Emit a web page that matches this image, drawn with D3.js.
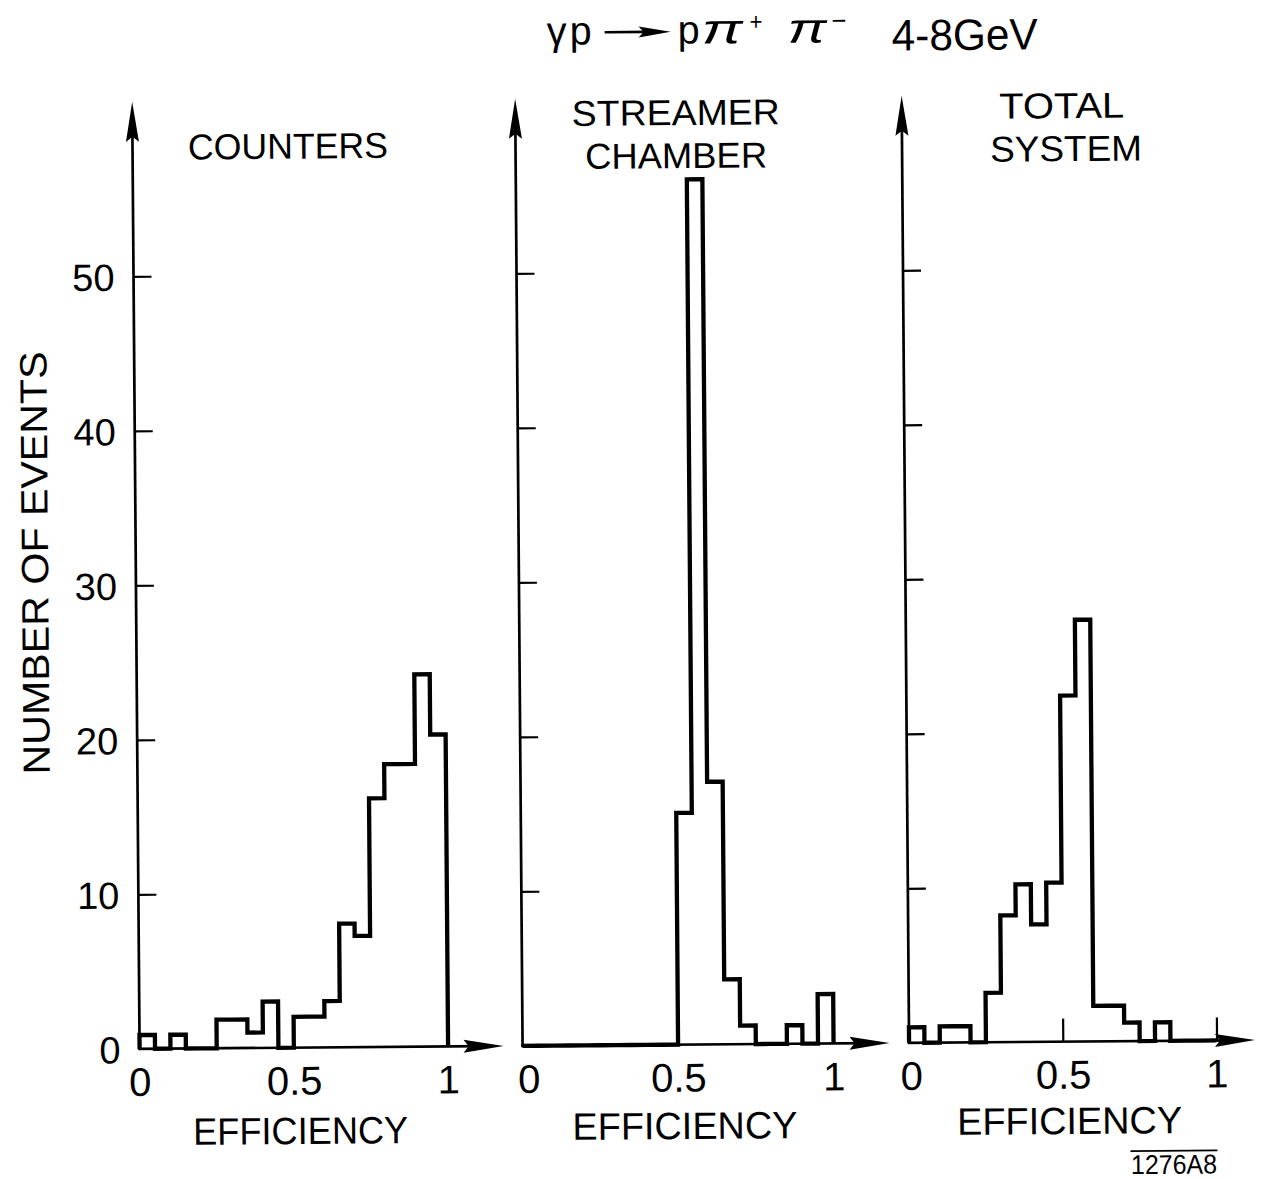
<!DOCTYPE html>
<html>
<head>
<meta charset="utf-8">
<script src="https://cdn.jsdelivr.net/npm/d3@7"></script>
<style>
  body { margin: 0; background: #fff; }
  text { font-family: "Liberation Sans", Arial, sans-serif; fill: #000; }
</style>
</head>
<body>
<svg id="chart" width="1264" height="1179"></svg>
<script>
// ---------------- DATA ----------------
const binEdges = [0, 0.05, 0.1, 0.15, 0.2, 0.25, 0.3, 0.35, 0.4, 0.45, 0.5,
                  0.55, 0.6, 0.65, 0.7, 0.75, 0.8, 0.85, 0.9, 0.95, 1.0];
const countersEvents = [0.9, 0, 0.9, 0, 0, 1.85, 1.85, 1.0, 3.0, 0,
                        2.0, 2.0, 3.0, 8.0, 7.2, 16.1, 18.3, 18.3, 24.1, 20.2];
const streamerEvents = [0, 0, 0, 0, 0, 0, 0, 0, 0, 0,
                        15.0, 56.0, 17.0, 4.2, 1.2, 0, 0, 1.2, 0, 3.2];
const totalEvents    = [1.0, 0, 1.05, 1.05, 0, 3.2, 8.2, 10.2, 7.6, 10.3,
                        22.4, 27.3, 2.3, 2.3, 1.2, 0, 1.2, 0, 0, 0];
const yTickValues = [0, 10, 20, 30, 40, 50];
const yTickLabels = ["0", "10", "20", "30", "40", "50"];
const xTickValues = [0, 0.5, 1];
const xTickLabels = ["0", "0.5", "1"];
const panelTitles = [["COUNTERS"], ["STREAMER", "CHAMBER"], ["TOTAL", "SYSTEM"]];
const xAxisTitle = "EFFICIENCY";
const yAxisTitle = "NUMBER OF EVENTS";
const figureId = "1276A8";

// ---------------- LAYOUT ----------------
const W = 1264, H = 1179;
const baseY = 1045, top50 = 272.5;
const yMaxArrow = 61.3;
const panels = [
  { data: countersEvents, x0: 136, x1: 444.5, xArrow: 1.18, zeroDx: 0,
    titleCx: [291.5], titleBase: [156], titleLen: [200],
    effBase: 1141.4, effLen: 215, yLabels: true, xTicks: false },
  { data: streamerEvents, x0: 519, x1: 830, xArrow: 1.18, zeroDx: 6,
    titleCx: [679.5, 679.5], titleBase: [125.5, 168.5], titleLen: [208, 182],
    effBase: 1139.4, effLen: 225, yLabels: false, xTicks: false },
  { data: totalEvents, x0: 905.5, x1: 1213, xArrow: 1.125, zeroDx: 2,
    titleCx: [1065.5, 1069.5], titleBase: [121.5, 164.5], titleLen: [125, 152],
    effBase: 1137.4, effLen: 225, yLabels: false, xTicks: true }
];

const svg = d3.select("#chart");
svg.append("rect").attr("width", W).attr("height", H).attr("fill", "#fff");
// slight scan rotation of the original figure
const g = svg.append("g").attr("transform", "rotate(-0.45,632,590)");

const y = d3.scaleLinear().domain([0, 50]).range([baseY, top50]);

panels.forEach((p, pi) => {
  const x = d3.scaleLinear().domain([0, 1]).range([p.x0, p.x1]);
  const pg = g.append("g");

  // y axis line + arrow
  const tipY = y(yMaxArrow);
  pg.append("line")
    .attr("x1", x(0)).attr("x2", x(0))
    .attr("y1", y(0) + 1).attr("y2", tipY + 20)
    .attr("stroke", "#000").attr("stroke-width", 2.7);
  pg.append("path")
    .attr("d", `M${x(0)},${tipY} L${x(0) - 6.5},${tipY + 40} L${x(0)},${tipY + 35} L${x(0) + 6.5},${tipY + 40} Z`)
    .attr("fill", "#000");

  // x axis line + arrow
  const tipX = x(p.xArrow);
  pg.append("line")
    .attr("x1", x(0) - 1.3).attr("x2", tipX - 20)
    .attr("y1", y(0)).attr("y2", y(0))
    .attr("stroke", "#000").attr("stroke-width", 2.7);
  pg.append("path")
    .attr("d", `M${tipX},${y(0)} L${tipX - 40},${y(0) - 6.5} L${tipX - 35},${y(0)} L${tipX - 40},${y(0) + 6.5} Z`)
    .attr("fill", "#000");

  // y ticks (inside, to the right)
  const yTickAxis = d3.axisRight(y).tickValues(yTickValues.slice(1)).tickSize(18).tickFormat("");
  const yt = pg.append("g").attr("transform", `translate(${x(0)},0)`).call(yTickAxis);
  yt.select(".domain").remove();
  yt.selectAll(".tick line").attr("stroke", "#000").attr("stroke-width", 2.2);

  // y tick labels (first panel only)
  if (p.yLabels) {
    const yLab = d3.axisLeft(y).tickValues(yTickValues).tickSize(0).tickPadding(19)
      .tickFormat((d, i) => yTickLabels[i]);
    const yl = pg.append("g").attr("transform", `translate(${x(0)},0)`).call(yLab);
    yl.select(".domain").remove();
    yl.selectAll("text").attr("font-family", "Liberation Sans, Arial, sans-serif")
      .attr("font-size", 38).attr("fill", "#000").attr("dy", "0.36em");
  }

  // x tick labels
  const xLab = d3.axisBottom(x).tickValues(xTickValues).tickSize(0)
    .tickFormat((d, i) => xTickLabels[i]);
  const xl = pg.append("g").attr("transform", `translate(0,${y(0)})`).call(xLab);
  xl.select(".domain").remove();
  xl.selectAll("text").attr("font-family", "Liberation Sans, Arial, sans-serif")
    .attr("font-size", 40).attr("fill", "#000").attr("y", 47).attr("dy", null)
    .attr("dx", (d) => d === 0 ? p.zeroDx : 0);

  // x ticks (third panel only, pointing up)
  if (p.xTicks) {
    const xt = pg.append("g").attr("transform", `translate(0,${y(0)})`)
      .call(d3.axisBottom(x).tickValues([0.5, 1]).tickSize(-23).tickFormat(""));
    xt.select(".domain").remove();
    xt.selectAll(".tick line").attr("stroke", "#000").attr("stroke-width", 2.2);
  }

  // histogram outline
  const pts = [[binEdges[0], 0]];
  p.data.forEach((c, i) => {
    pts.push([binEdges[i], c]);
    pts.push([binEdges[i + 1], c]);
  });
  pts.push([binEdges[binEdges.length - 1], 0]);
  const line = d3.line().x(d => x(d[0])).y(d => y(d[1]));
  pg.append("path").attr("d", line(pts))
    .attr("fill", "none").attr("stroke", "#000")
    .attr("stroke-width", 4.3).attr("stroke-linejoin", "miter");

  // panel title
  panelTitles[pi].forEach((t, k) => {
    pg.append("text").text(t)
      .attr("x", p.titleCx[k]).attr("y", p.titleBase[k])
      .attr("text-anchor", "middle").attr("font-size", 36)
      .attr("textLength", p.titleLen[k]).attr("lengthAdjust", "spacingAndGlyphs");
  });

  // x axis title
  pg.append("text").text(xAxisTitle)
    .attr("x", x(0.52)).attr("y", p.effBase)
    .attr("text-anchor", "middle").attr("font-size", 38)
    .attr("textLength", p.effLen).attr("lengthAdjust", "spacingAndGlyphs");
});

// y axis title
g.append("text").text(yAxisTitle)
  .attr("transform", "translate(35.2,558.3) rotate(-90)")
  .attr("text-anchor", "middle").attr("dominant-baseline", "central")
  .attr("font-size", 38)
  .attr("textLength", 423).attr("lengthAdjust", "spacingAndGlyphs");

// main title: γp → pπ+ π−  4-8GeV
const titleParts = [
  { t: "γ", x: 551, y: 44, s: 40, len: 20 },
  { t: "p", x: 574, y: 44, s: 40, len: 22 },
  { t: "p", x: 682, y: 44, s: 40, len: 22 },
  { t: "π", x: 706, y: 44, s: 42, len: 41, it: true },
  { t: "+", x: 754, y: 31, s: 24, len: 13 },
  { t: "π", x: 792, y: 44, s: 42, len: 39, it: true },
  { t: "−", x: 836, y: 31, s: 26, len: 15 },
  { t: "4-8GeV", x: 896, y: 52.5, s: 44, len: 146 }
];
titleParts.forEach(d => {
  g.append("text").text(d.t)
    .attr("x", d.x).attr("y", d.y).attr("font-size", d.s)
    .attr("font-family", d.it ? "DejaVu Sans, sans-serif" : null)
    .attr("font-style", d.it ? "italic" : null)
    .attr("textLength", d.len).attr("lengthAdjust", "spacingAndGlyphs");
});
// reaction arrow
g.append("line").attr("x1", 609).attr("x2", 652).attr("y1", 32).attr("y2", 32)
  .attr("stroke", "#000").attr("stroke-width", 2.6);
g.append("path").attr("d", "M675,32 L643,26.5 L648,32 L643,37.5 Z").attr("fill", "#000");

// figure id with overline
g.append("line").attr("x1", 1126).attr("x2", 1213).attr("y1", 1155).attr("y2", 1155)
  .attr("stroke", "#000").attr("stroke-width", 1.8);
g.append("text").text(figureId)
  .attr("x", 1126.5).attr("y", 1178).attr("font-size", 27)
  .attr("textLength", 86).attr("lengthAdjust", "spacingAndGlyphs");
</script>
</body>
</html>
